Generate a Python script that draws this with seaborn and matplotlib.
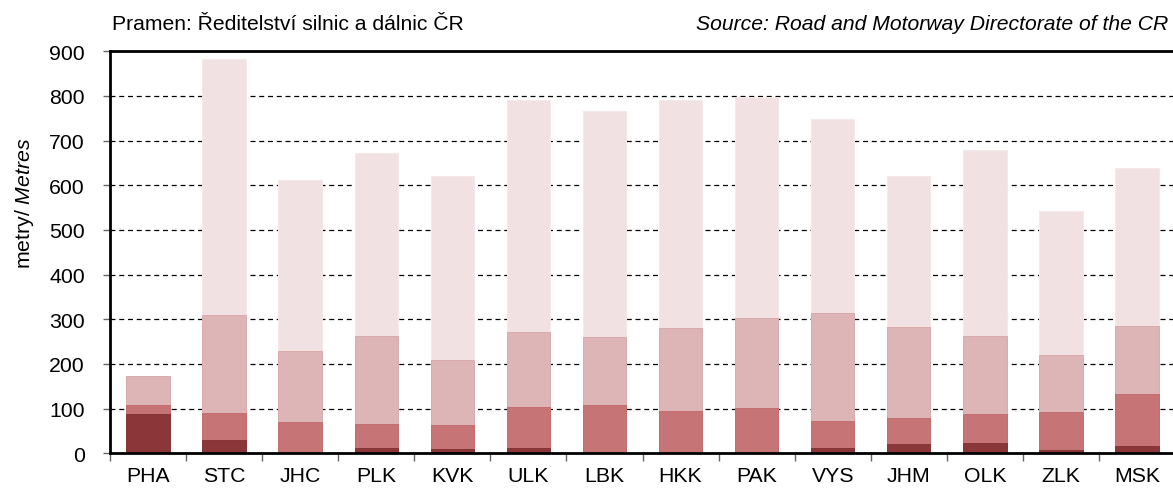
import numpy as np
import pandas as pd
import matplotlib
matplotlib.use("Agg")
import matplotlib.pyplot as plt
import seaborn as sns

sns.set_style("white")
plt.rcParams["font.family"] = ["Liberation Sans", "DejaVu Sans"]
plt.rcParams["mathtext.fontset"] = "custom"
plt.rcParams["mathtext.rm"] = "Liberation Sans"
plt.rcParams["mathtext.it"] = "Liberation Sans:italic"
plt.rcParams["text.color"] = "black"

# segment lengths in metres (bottom -> top)
data = {
    "kraj": ["PHA", "STC", "JHC", "PLK", "KVK", "ULK", "LBK",
             "HKK", "PAK", "VYS", "JHM", "OLK", "ZLK", "MSK"],
    "s1": [87, 30, 0, 12, 9, 12, 0, 0, 0, 11, 20, 22, 7, 16],
    "s2": [21, 61, 69, 54, 55, 91, 107, 94, 102, 62, 58, 66, 85, 117],
    "s3": [64, 218, 161, 196, 144, 168, 154, 187, 202, 240, 205, 175, 129, 153],
    "s4": [0, 573, 382, 410, 413, 519, 506, 509, 494, 435, 338, 415, 321, 352],
}
df = pd.DataFrame(data)
df["c1"] = df["s1"]
df["c2"] = df["c1"] + df["s2"]
df["c3"] = df["c2"] + df["s3"]
df["c4"] = df["c3"] + df["s4"]

fig = plt.figure(figsize=(11.73, 4.89), dpi=100)
ax = fig.add_axes([110 / 1173, 0.071, 1065 / 1173, 0.822])

layers = [("c4", "#F1E1E2", "#F5E8E8"),
          ("c3", "#DEB5B6", "#D9ABAC"),
          ("c2", "#C67475", "#C36E6F"),
          ("c1", "#8B373A", "#873436")]
for col, fc, ec in layers:
    sns.barplot(data=df, x="kraj", y=col, color=fc, saturation=1,
                width=0.57, errorbar=None, edgecolor=ec, linewidth=0.7, ax=ax)

ax.set_ylim(0, 900)
ax.set_xlim(-0.5, len(df) - 0.5)
ax.set_yticks(np.arange(0, 901, 100))
ax.set_xlabel("")
ax.set_ylabel("")
ax.set_axisbelow(True)
ax.yaxis.grid(True, color="black", linestyle=(0, (4, 3)), linewidth=0.9)

ax.set_xticks(np.arange(-0.5, len(df), 1), minor=True)
ax.tick_params(axis="x", which="major", length=0, pad=9, labelsize=15.3,
               labelcolor="black")
ax.tick_params(axis="x", which="minor", length=6, width=1, color="#666666",
               direction="out", bottom=True)
ax.tick_params(axis="y", which="major", length=5, width=1, color="#666666",
               direction="out", left=True, pad=13, labelsize=15.3,
               labelcolor="black")

for side in ["left", "top", "bottom"]:
    ax.spines[side].set_linewidth(2)
    ax.spines[side].set_color("black")
ax.spines["right"].set_visible(False)

fig.text(112 / 1173, 1 - 30 / 489, "Pramen: Ředitelství silnic a dálnic ČR",
         fontsize=15.2, ha="left", va="baseline")
fig.text(1168 / 1173, 1 - 30 / 489, "Source: Road and Motorway Directorate of the CR",
         fontsize=15.2, ha="right", va="baseline", style="italic")
fig.text(25 / 1173, 1 - 203 / 489, r"metry/ $\mathit{Metres}$",
         fontsize=15.3, rotation=90, ha="center", va="center")

fig.savefig("out.png", dpi=100, facecolor="white")
